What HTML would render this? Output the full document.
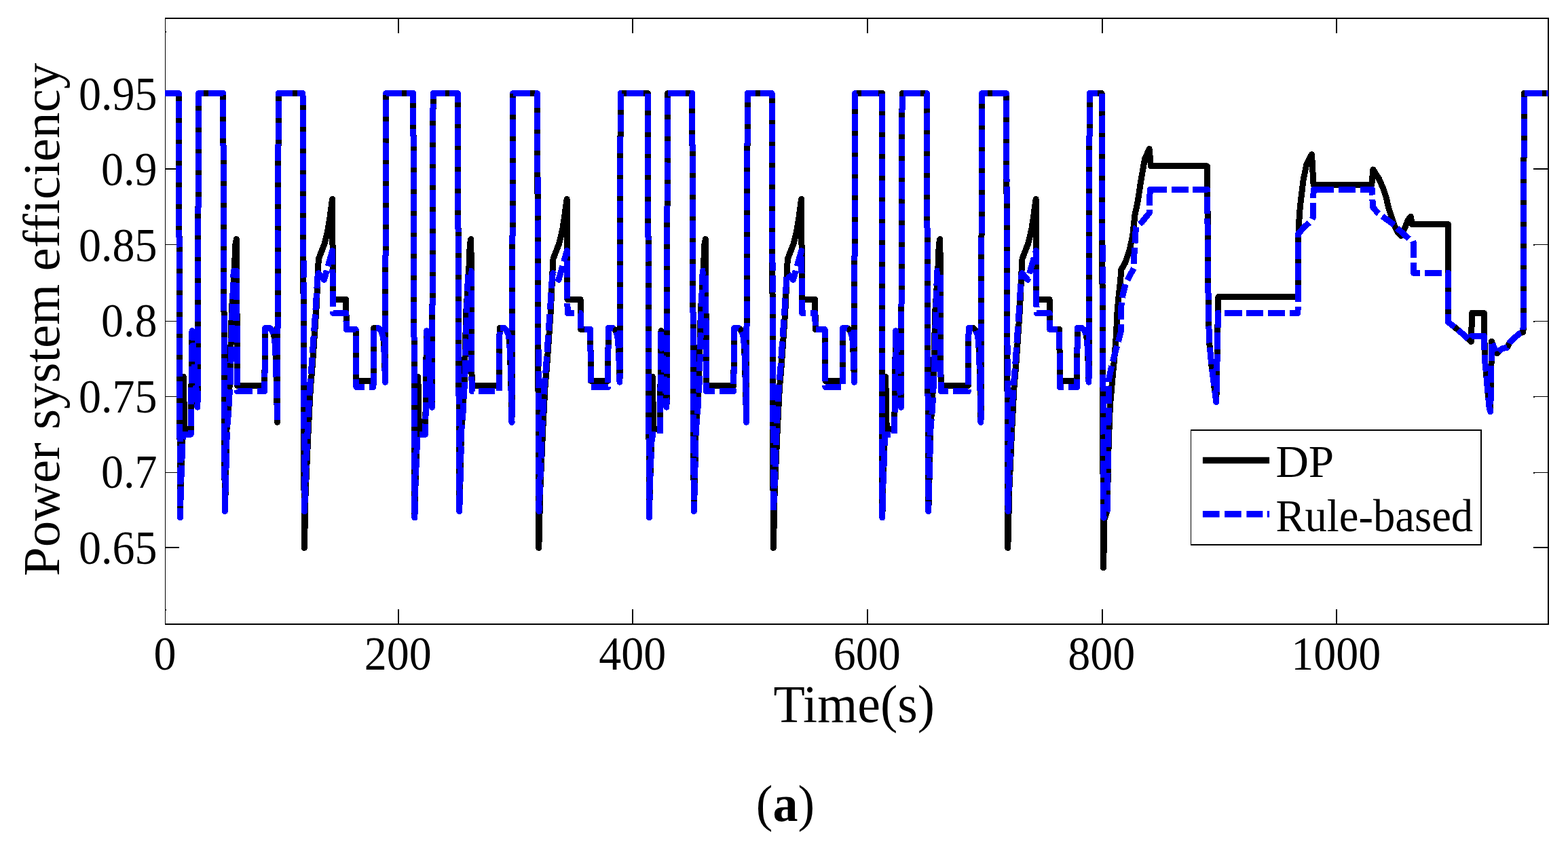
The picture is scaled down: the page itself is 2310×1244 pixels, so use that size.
<!DOCTYPE html>
<html lang="en"><head><meta charset="utf-8"><title>Power system efficiency</title>
<style>html,body{margin:0;padding:0;background:#fff;}body{width:2310px;height:1244px;overflow:hidden;}svg{display:block;}text{font-family:"Liberation Serif","DejaVu Serif",serif;fill:#000;font-variant-ligatures:none;}</style>
</head><body>
<svg width="2310" height="1244" viewBox="0 0 2310 1244">
<rect x="0" y="0" width="2310" height="1244" fill="#fff"/>
<g fill="#000" shape-rendering="crispEdges">
<rect x="243" y="26" width="2039" height="2"/>
<rect x="243" y="919" width="2039" height="2"/>
<rect x="243" y="26" width="1" height="895"/>
<rect x="2280" y="26" width="2" height="895"/>
<rect x="586" y="898" width="2" height="21"/>
<rect x="586" y="28" width="2" height="21"/>
<rect x="931" y="898" width="2" height="21"/>
<rect x="931" y="28" width="2" height="21"/>
<rect x="1277" y="898" width="2" height="21"/>
<rect x="1277" y="28" width="2" height="21"/>
<rect x="1623" y="898" width="2" height="21"/>
<rect x="1623" y="28" width="2" height="21"/>
<rect x="1968" y="898" width="2" height="21"/>
<rect x="1968" y="28" width="2" height="21"/>
<rect x="243" y="898" width="2" height="2"/>
<rect x="243" y="46" width="2" height="2"/>
<rect x="243" y="248" width="21" height="2"/>
<rect x="2259" y="248" width="22" height="2"/>
<rect x="243" y="360" width="21" height="1"/>
<rect x="2259" y="360" width="22" height="1"/>
<rect x="2259" y="360" width="2" height="2"/>
<rect x="243" y="473" width="21" height="1"/>
<rect x="2259" y="473" width="22" height="1"/>
<rect x="2259" y="473" width="2" height="2"/>
<rect x="243" y="584" width="21" height="1"/>
<rect x="2259" y="584" width="22" height="1"/>
<rect x="2259" y="584" width="2" height="2"/>
<rect x="243" y="696" width="21" height="1"/>
<rect x="2259" y="696" width="22" height="1"/>
<rect x="2259" y="696" width="2" height="2"/>
<rect x="243" y="806" width="21" height="2"/>
<rect x="2259" y="806" width="22" height="2"/>
</g>
<g fill="none" stroke-linejoin="round" stroke-linecap="butt" stroke-width="9" shape-rendering="crispEdges">
<path stroke="#000" d="M243.2 137.5 L263.3 137.5 L265.4 763.0 L266.5 716.0 L268.7 653.0 L270.3 555.4 L271.8 632.6 L281.2 632.6 L283.0 487.7 L291.0 600.2 L292.6 137.5 L328.7 137.5 L331.2 753.5 L332.1 727.0 L334.0 633.0 L335.8 610.0 L336.9 594.6 L337.7 575.0 L338.5 565.7 L339.4 530.0 L341.5 455.0 L345.2 400.0 L346.8 360.0 L348.4 352.5 L349.6 568.3 L389.8 568.3 L390.6 483.5 L397.1 483.5 L400.6 486.5 L403.4 493.0 L404.8 502.0 L405.6 514.0 L406.2 528.0 L406.8 547.0 L408.1 600.0 L408.5 622.5 L410.3 137.5 L446.0 137.5 L448.3 807.5 L449.3 767.0 L450.1 727.0 L454.4 630.0 L457.5 571.0 L460.2 540.0 L465.9 457.0 L468.5 400.0 L468.7 392.0 L469.6 381.0 L477.8 360.0 L481.0 348.0 L483.5 336.0 L486.0 320.0 L488.0 305.0 L489.6 293.5 L490.5 441.5 L509.7 441.5 L510.3 485.5 L524.2 485.5 L525.0 561.5 L550.0 561.5 L550.8 483.5 L557.3 483.5 L560.8 486.5 L563.6 493.0 L565.0 502.0 L565.8 514.0 L566.4 528.0 L567.0 547.0 L567.5 563.2 L568.7 137.5 L608.8 137.5 L610.9 763.0 L612.0 716.0 L614.2 653.0 L615.8 555.4 L617.3 632.6 L626.7 632.6 L628.5 487.7 L636.5 600.2 L638.1 137.5 L674.2 137.5 L676.7 753.5 L677.6 727.0 L679.5 633.0 L681.3 610.0 L682.4 594.6 L683.2 575.0 L684.0 565.7 L684.9 530.0 L687.0 455.0 L690.7 400.0 L692.3 360.0 L693.9 352.5 L695.1 568.3 L735.3 568.3 L736.1 483.5 L742.6 483.5 L746.1 486.5 L748.9 493.0 L750.3 502.0 L751.1 514.0 L751.7 528.0 L752.3 547.0 L753.6 600.0 L754.0 622.5 L755.8 137.5 L791.5 137.5 L793.8 807.5 L794.8 767.0 L795.6 727.0 L799.9 630.0 L803.0 571.0 L805.7 540.0 L811.4 457.0 L814.0 400.0 L814.2 392.0 L815.1 381.0 L823.3 360.0 L826.5 348.0 L829.0 336.0 L831.5 320.0 L833.5 305.0 L835.1 293.5 L836.0 441.5 L855.2 441.5 L855.8 485.5 L869.7 485.5 L870.5 561.5 L895.5 561.5 L896.3 483.5 L902.8 483.5 L906.3 486.5 L909.1 493.0 L910.5 502.0 L911.3 514.0 L911.9 528.0 L912.5 547.0 L913.0 563.2 L914.2 137.5 L954.3 137.5 L956.4 763.0 L957.5 716.0 L959.7 653.0 L961.3 555.4 L962.8 632.6 L972.2 632.6 L974.0 487.7 L982.0 600.2 L983.6 137.5 L1019.7 137.5 L1022.2 753.5 L1023.1 727.0 L1025.0 633.0 L1026.8 610.0 L1027.9 594.6 L1028.7 575.0 L1029.5 565.7 L1030.4 530.0 L1032.5 455.0 L1036.2 400.0 L1037.8 360.0 L1039.4 352.5 L1040.6 568.3 L1080.8 568.3 L1081.6 483.5 L1088.1 483.5 L1091.6 486.5 L1094.4 493.0 L1095.8 502.0 L1096.6 514.0 L1097.2 528.0 L1097.8 547.0 L1099.1 600.0 L1099.5 622.5 L1101.3 137.5 L1137.0 137.5 L1139.3 807.5 L1140.3 767.0 L1141.1 727.0 L1145.4 630.0 L1148.5 571.0 L1151.2 540.0 L1156.9 457.0 L1159.5 400.0 L1159.7 392.0 L1160.6 381.0 L1168.8 360.0 L1172.0 348.0 L1174.5 336.0 L1177.0 320.0 L1179.0 305.0 L1180.6 293.5 L1181.5 441.5 L1200.7 441.5 L1201.3 485.5 L1215.2 485.5 L1216.0 561.5 L1241.0 561.5 L1241.8 483.5 L1248.3 483.5 L1251.8 486.5 L1254.6 493.0 L1256.0 502.0 L1256.8 514.0 L1257.4 528.0 L1258.0 547.0 L1258.5 563.2 L1259.7 137.5 L1299.8 137.5 L1299.8 763.0 L1300.9 716.0 L1303.1 653.0 L1304.7 555.4 L1306.2 632.6 L1317.7 632.6 L1319.5 487.7 L1327.5 600.2 L1329.1 137.5 L1365.2 137.5 L1367.7 753.5 L1368.6 727.0 L1370.5 633.0 L1372.3 610.0 L1373.4 594.6 L1374.2 575.0 L1375.0 565.7 L1375.9 530.0 L1378.0 455.0 L1381.7 400.0 L1383.3 360.0 L1384.9 352.5 L1386.1 568.3 L1426.3 568.3 L1427.1 483.5 L1433.6 483.5 L1437.1 486.5 L1439.9 493.0 L1441.3 502.0 L1442.1 514.0 L1442.7 528.0 L1443.3 547.0 L1444.6 600.0 L1445.0 622.5 L1446.8 137.5 L1482.5 137.5 L1484.8 807.5 L1485.8 767.0 L1486.6 727.0 L1490.9 630.0 L1494.0 571.0 L1496.7 540.0 L1502.4 457.0 L1505.0 400.0 L1505.2 392.0 L1506.1 381.0 L1514.3 360.0 L1517.5 348.0 L1520.0 336.0 L1522.5 320.0 L1524.5 305.0 L1526.1 293.5 L1527.0 441.5 L1546.2 441.5 L1546.8 485.5 L1560.7 485.5 L1561.5 561.5 L1586.5 561.5 L1587.3 483.5 L1593.8 483.5 L1597.3 486.5 L1600.1 493.0 L1601.5 502.0 L1602.3 514.0 L1602.9 528.0 L1603.5 547.0 L1604.0 563.2 L1605.2 137.5 L1623.0 137.5 L1625.5 836.6 L1626.6 790.0 L1627.0 765.0 L1631.3 752.0 L1632.2 700.0 L1633.0 662.0 L1634.1 630.0 L1635.4 598.0 L1638.6 561.0 L1642.0 525.0 L1644.7 490.0 L1645.5 466.3 L1647.9 438.2 L1650.5 414.8 L1651.8 397.6 L1658.0 386.7 L1664.2 368.0 L1668.6 347.7 L1672.0 316.5 L1676.0 298.0 L1680.9 266.0 L1686.4 234.8 L1693.1 219.3 L1695.5 244.9 L1778.5 244.9 L1779.7 400.0 L1780.4 470.0 L1782.0 509.0 L1785.1 540.2 L1789.0 571.4 L1791.8 592.6 L1794.8 437.7 L1912.0 437.7 L1912.5 360.0 L1913.5 330.0 L1915.4 304.0 L1920.0 266.0 L1924.7 242.6 L1932.5 227.6 L1935.1 272.4 L2020.8 272.4 L2022.8 249.9 L2031.4 263.3 L2037.6 277.3 L2042.3 291.4 L2045.4 305.4 L2050.1 319.5 L2054.0 332.0 L2059.5 342.9 L2064.0 347.5 L2070.0 335.0 L2074.0 325.0 L2078.2 319.2 L2080.5 330.7 L2133.5 330.7 L2133.5 474.7 L2146.7 485.2 L2156.8 493.8 L2167.3 503.6 L2168.7 461.5 L2186.3 461.5 L2187.4 530.0 L2189.7 553.0 L2191.7 577.0 L2194.0 600.0 L2195.6 606.6 L2196.4 577.0 L2197.5 503.3 L2201.0 512.0 L2205.5 521.0 L2210.0 516.0 L2213.7 513.5 L2220.0 512.5 L2224.0 505.0 L2230.0 499.0 L2238.7 491.5 L2244.0 489.5 L2245.4 137.5 L2281.0 137.5"/>
<path stroke="#0000ff" stroke-dasharray="24.65 6.7 25.08 6.7 25.08 6.7 25.08 6.7 25.08 6.7 25.08 6.7 25.08 6.7 25.08 6.7 25.08 6.7 25.08 6.7 25.08 6.7 25.08 6.7 25.08 6.7 25.08 6.7 25.08 6.7 25.08 6.7 25.08 6.7 25.08 6.7 25.08 6.7 25.08 6.7 24.82 6.7 24.82 6.7 24.82 6.7 24.82 6.7 24.82 6.7 24.82 6.7 24.82 6.7 24.82 6.7 24.82 6.7 24.82 6.7 24.82 6.7 24.82 6.7 24.82 6.7 24.82 6.7 25.08 6.7 25.08 6.7 25.08 6.7 25.08 6.7 25.08 6.7 25.08 6.7 25.08 6.7 25.08 6.7 25.08 6.7 25.08 6.7 25.08 6.7 25.08 6.7 25.08 6.7 26.1 6.7 24.72 6.7 25.08 6.7 25.08 6.7 25.08 6.7 25.08 6.7 25.08 6.7 25.08 6.7 25.08 6.7 25.08 6.7 25.08 6.7 25.08 6.7 25.08 6.7 25.08 6.7 25.08 6.7 25.08 6.7 25.08 6.7 25.08 6.7 25.08 6.7 25.08 6.7 25.08 6.7 24.85 6.7 24.85 6.7 24.85 6.7 24.85 6.7 24.85 6.7 24.85 6.7 24.85 6.7 24.85 6.7 24.85 6.7 24.85 6.7 24.85 6.7 24.85 6.7 24.85 6.7 24.85 6.7 24.85 6.7 24.85 6.7 24.85 6.7 24.85 6.7 25.23 6.7 25.23 6.7 25.23 6.7 25.23 6.7 25.23 6.7 25.23 6.7 25.23 6.7 25.23 6.7 25.23 6.7 25.08 6.7 25.08 6.7 25.08 6.7 25.08 6.7 25.08 6.7 25.08 6.7 25.08 6.7 25.08 6.7 25.08 6.7 25.08 6.7 25.08 6.7 25.08 6.7 25.08 6.7 25.08 6.7 25.4 6.7 26 6.7 25.08 6.7 25.08 6.7 25.08 6.7 25.08 6.7 25.08 6.7 25.08 6.7 25.08 6.7 25.08 6.7 25.08 6.7 25.08 6.7 25.08 6.7 25.08 6.7 25.08 6.7 25.08 6.7 25.08 6.7 25.08 6.7 25.08 6.7 25.08 6.7 24.6 6.7 24.6 6.7 25.08 6.7 25.08 6.7 25.24 6.7 25.24 6.7 25.53 6.7 24.34 6.7 25.16 6.7 25.08 6.7 24.77 6.7 49.58 6.7 43.89 6.7 25.7 6.7 22.9 6.7 26.8 6.7 29.2 6.7 25.1 6.7 25.4 6.7 24.1 6.7 26.5 6.7 25.2 6.7 24.5 6.7 25.21 6.7 24.92 6.7 24.88 6.7 25.08 6.7 25.08 6.7 25.08 6.7 25.08 6.7 25.08 6.7 25.08 6.7 25.08 6.7 25.08 6.7 25.08 6.7 25.08 6.7 25.08 6.7 25.08 6.7 25.08 6.7 26.1 6.7 24.5 6.7 25.08 6.7 25.08 6.7 25.08 6.7 25.08 6.7 25.08 6.7 25.08 6.7 25.08 6.7 25.08 6.7 25.08 6.7 25.08 6.7 25.08 6.7 25.08 6.7 25.08 6.7 25.08 6.7 25.08 6.7 25.08 6.7 25.08 6.7 25.08 6.7 25.08 6.7 24.79 6.7 24.79 6.7 24.79 6.7 24.79 6.7 24.79 6.7 24.79 6.7 24.79 6.7 24.79 6.7 24.79 6.7 24.79 6.7 24.79 6.7 24.79 6.7 24.79 6.7 25.08 6.7 25.08 6.7 25.08 6.7 25.08 6.7 25.08 6.7 25.08 6.7 25.08 6.7 25.08 6.7 25.08 6.7 25.08 6.7 25.08 6.7 25.08 6.7 25.08 6.7 25.08 6.7 26.3 6.7 25.4 6.7 25.08 6.7 25.08 6.7 25.08 6.7 25.08 6.7 25.08 6.7 25.08 6.7 25.08 6.7 25.08 6.7 25.08 6.7 25.08 6.7 25.08 6.7 25.08 6.7 25.08 6.7 25.08 6.7 25.08 6.7 25.08 6.7 25.08 6.7 25.08 6.7 24.94 6.7 24.94 6.7 24.94 6.7 24.94 6.7 24.94 6.7 24.94 6.7 24.94 6.7 24.94 6.7 24.94 6.7 24.94 6.7 24.94 6.7 24.94 6.7 24.94 6.7 24.94 6.7 24.94 6.7 24.94 6.7 24.94 6.7 24.94 6.7 24.38 6.7 24.38 6.7 24.38 6.7 24.38 6.7 24.38 6.7 24.38 6.7 24.38 6.7 24.38 6.7 24.38 6.7 25.08 6.7 25.08 6.7 25.08 6.7 25.08 6.7 25.08 6.7 25.08 6.7 25.08 6.7 25.08 6.7 25.08 6.7 25.08 6.7 25.08 6.7 25.08 6.7 25.08 6.7 25.08 6.7 25.08 6.7 25.22 6.7 25.2 6.7 25.08 6.7 25.08 6.7 25.08 6.7 25.08 6.7 25.08 6.7 25.08 6.7 25.08 6.7 25.08 6.7 25.08 6.7 25.08 6.7 25.08 6.7 25.08 6.7 25.08 6.7 25.08 6.7 25.08 6.7 25.08 6.7 25.08 6.7 25.08 6.7 24.69 6.7 24.69 6.7 24.69 6.7 24.69 6.7 24.69 6.7 24.69 6.7 24.69 6.7 24.69 6.7 24.69 6.7 24.69 6.7 24.69 6.7 24.69 6.7 24.69 6.7 24.69 6.7 24.69 6.7 24.69 6.7 24.69 6.7 24.69 6.7 24.69 6.7 24.69 6.7 24.69 6.7 24.69 6.7 24.69 6.7 24.69 6.7 24.69 6.7 24.69 6.7 24.69 6.7 24.69 6.7 25.08 6.7 25.08 6.7 25.08 6.7 25.08 6.7 25.08 6.7 25.08 6.7 25.08 6.7 25.08 6.7 25.08 6.7 25.08 6.7 25.08 6.7 25.08 6.7 26.5 6.7 25.25 6.7 25.25 6.7 25.08 6.7 25.08 6.7 25.08 6.7 25.08 6.7 25.08 6.7 25.08 6.7 25.08 6.7 25.08 6.7 25.08 6.7 25.08 6.7 25.08 6.7 25.08 6.7 25.08 6.7 25.08 6.7 25.08 6.7 25.08 6.7 25.08 6.7 25.08 6.7 24.65 6.7 24.65 6.7 24.65 6.7 24.65 6.7 24.65 6.7 24.65 6.7 24.65 6.7 24.65 6.7 24.65 6.7 24.65 6.7 24.65 6.7 24.65 6.7 24.65 6.7 24.65 6.7 25.08 6.7 25.08 6.7 25.08 6.7 25.08 6.7 25.08 6.7 25.08 6.7 25.08 6.7 25.08 6.7 25.08 6.7 25.08 6.7 25.08 6.7 25.08 6.7 25.08 6.7 25.08 6.7 26.32 6.7 25.4 6.7 25.08 6.7 25.08 6.7 25.08 6.7 25.08 6.7 25.08 6.7 25.08 6.7 25.08 6.7 25.08 6.7 25.08 6.7 25.08 6.7 25.08 6.7 25.08 6.7 25.08 6.7 25.08 6.7 25.08 6.7 25.08 6.7 25.08 6.7 25.08 6.7 24.96 6.7 24.96 6.7 24.96 6.7 24.96 6.7 24.96 6.7 24.96 6.7 24.96 6.7 24.96 6.7 24.96 6.7 24.96 6.7 24.96 6.7 24.96 6.7 24.96 6.7 24.96 6.7 24.96 6.7 24.96 6.7 24.96 6.7 24.96 6.7 25.35 6.7 25.35 6.7 25.35 6.7 25.35 6.7 25.35 6.7 25.35 6.7 25.35 6.7 25.35 6.7 25.35 6.7 25.08 6.7 25.08 6.7 25.08 6.7 25.08 6.7 25.08 6.7 25.08 6.7 25.08 6.7 25.08 6.7 25.08 6.7 25.08 6.7 25.08 6.7 25.08 6.7 25.08 6.7 25.08 6.7 25.7 6.7 24.6 6.7 25.08 6.7 25.08 6.7 25.08 6.7 25.08 6.7 25.08 6.7 25.08 6.7 25.08 6.7 25.08 6.7 25.08 6.7 25.08 6.7 25.08 6.7 25.08 6.7 25.08 6.7 25.08 6.7 25.08 6.7 25.08 6.7 25.08 6.7 25.08 6.7 25.08 6.7 25.23 6.7 25.23 6.7 25.23 6.7 25.23 6.7 25.23 6.7 25.23 6.7 25.23 6.7 25.23 6.7 25.23 6.7 25.23 6.7 25.23 6.7 25.23 6.7 25.23 6.7 25.23 6.7 25.23 6.7 25.23 6.7 25.23 6.7 25.23 6.7 25.23 6.7 25.23 6.7 25.23 6.7 25.23 6.7 25.23 6.7 25.23 6.7 25.23 6.7 25.23 6.7 25.23 6.7 25.08 6.7 25.08 6.7 25.08 6.7 25.08 6.7 25.08 6.7 25.08 6.7 25.08 6.7 25.08 6.7 25.08 6.7 25.08 6.7 25.08 6.7 25.08 6.7 26.2 6.7 25.2 6.7 25.2 6.7 25.08 6.7 25.08 6.7 25.08 6.7 25.08 6.7 25.08 6.7 25.08 6.7 25.08 6.7 25.08 6.7 25.08 6.7 25.08 6.7 25.08 6.7 25.08 6.7 25.08 6.7 25.08 6.7 25.08 6.7 25.08 6.7 25.08 6.7 25.08 6.7 24.96 6.7 24.96 6.7 24.96 6.7 24.96 6.7 24.96 6.7 24.96 6.7 24.96 6.7 24.96 6.7 24.96 6.7 24.96 6.7 24.96 6.7 24.96 6.7 24.96 6.7 24.96 6.7 25.08 6.7 25.08 6.7 25.08 6.7 25.08 6.7 25.08 6.7 25.08 6.7 25.08 6.7 25.08 6.7 25.08 6.7 25.08 6.7 25.08 6.7 25.08 6.7 25.08 6.7 24.5 6.7 24.5 6.7 24.9 6.7 25.08 6.7 25.08 6.7 25.08 6.7 25.08 6.7 25.08 6.7 25.08 6.7 25.08 6.7 25.08 6.7 25.08 6.7 25.08 6.7 25.08 6.7 25.08 6.7 25.08 6.7 25.08 6.7 25.08 6.7 25.08 6.7 25.08 6.7 25.08 6.7 24.88 6.7 24.88 6.7 24.88 6.7 24.88 6.7 24.88 6.7 24.88 6.7 24.88 6.7 24.88 6.7 24.88 6.7 24.88 6.7 24.88 6.7 24.88 6.7 24.88 6.7 24.88 6.7 24.88 6.7 24.88 6.7 24.88 6.7 24.88 6.7 25.33 6.7 25.33 6.7 25.33 6.7 25.33 6.7 25.33 6.7 25.33 6.7 25.33 6.7 25.33 6.7 25.33 6.7 25.08 6.7 25.08 6.7 25.08 6.7 25.08 6.7 25.08 6.7 25.08 6.7 25.08 6.7 25.08 6.7 25.08 6.7 25.08 6.7 25.08 6.7 25.08 6.7 25.08 6.7 25.08 6.7 23.7 6.7 24.5 6.7 25.08 6.7 25.08 6.7 25.08 6.7 25.08 6.7 25.08 6.7 25.08 6.7 25.08 6.7 25.08 6.7 25.08 6.7 25.08 6.7 25.08 6.7 25.08 6.7 25.08 6.7 25.08 6.7 25.08 6.7 25.08 6.7 25.08 6.7 25.08 6.7 25.08 6.7 24.59 6.7 24.59 6.7 24.59 6.7 24.59 6.7 24.59 6.7 24.59 6.7 24.59 6.7 24.59 6.7 24.59 6.7 24.59 6.7 24.59 6.7 24.59 6.7 24.59 6.7 24.59 6.7 24.59 6.7 24.59 6.7 24.59 6.7 24.59 6.7 24.59 6.7 24.59 6.7 24.59 6.7 24.59 6.7 24.59 6.7 24.59 6.7 24.59 6.7 24.59 6.7 24.59 6.7 24.59 6.7 25.08 6.7 25.08 6.7 25.08 6.7 25.08 6.7 25.08 6.7 25.08 6.7 25.08 6.7 25.08 6.7 25.08 6.7 25.08 6.7 25.08 6.7 25.08 6.7 25.45 6.7 25.45 6.7 25.08 6.7 25.08 6.7 25.08 6.7 25.08 6.7 25.08 6.7 25.08 6.7 25.08 6.7 25.08 6.7 25.08 6.7 25.08 6.7 25.08 6.7 25.08 6.7 25.08 6.7 25.08 6.7 25.08 6.7 25.08 6.7 25.08 6.7 25.08 6.7 24.5 6.7 24.5 6.7 25.3 6.7 25.3 6.7 25.3 6.7 25.3 6.7 25.3 6.7 23.71 6.7 23.7 6.7 26.27 6.7 25.62 6.7 20.4 6.7 19.86 6.7 23.73 6.7 24.14 6.7 26.52 6.7 48.21 6.7 25.2 6.7 24.8 6.7 25.41 6.7 25.08 6.7 25.08 6.7 25.04 6.7 25.04 6.7 25.04 6.7 25.04 6.7 25.04 6.7 25.04 6.7 25.04 6.7 25.04 6.7 25.04 6.7 25.04 6.7 25.04 6.7 25.08 6.7 25.08 6.7 25.08 6.7 21.68 6.7 25.08 6.7 25.08 6.7 25.08 6.7 28.46 6.7 24.58 6.7 42.8 6.7 25.3 6.7 26.1 6.7 23.79 6.7 21.73 6.7 23.28 6.7 24.89 6.7 25.3 6.7 24.6 6.7 24.6 6.7 25.4 6.7 24.14 6.7 20 6.7 41.6 6.7 25.01 6.7 24.93 6.7 25.49 6.7 24.5 6.7 25.4 6.7 25.3 6.7 12.94 6.7 14.71 6.7 23.45 6.7 25.45 6.7 25.08 6.7 25.08 6.7 25.08 6.7 25.08 6.7 25.08 6.7 25.08 6.7 25.08 6.7 25.08 6.7 25.08 6.7 25.08 6.7 25.08 6.7 52.67 0.01" d="M243.2 137.5 L263.3 137.5 L265.4 763.0 L266.5 716.0 L268.9 653.0 L269.5 640.2 L281.2 640.2 L283.0 487.7 L291.0 600.2 L292.6 137.5 L328.7 137.5 L331.2 753.5 L332.1 727.0 L334.4 633.0 L336.4 610.0 L337.5 594.6 L338.3 575.0 L339.1 565.7 L340.1 530.0 L342.2 455.0 L344.2 399.5 L348.6 399.5 L349.6 576.7 L389.8 576.7 L390.6 483.5 L397.1 483.5 L400.6 486.5 L403.4 493.0 L404.8 502.0 L405.6 514.0 L406.2 528.0 L406.8 547.0 L408.1 600.0 L408.5 622.5 L410.3 137.5 L446.0 137.5 L448.5 753.6 L449.6 727.0 L453.3 630.0 L456.4 571.0 L459.0 540.0 L464.9 457.0 L468.0 407.0 L469.3 402.7 L477.5 412.3 L489.7 369.6 L490.6 461.5 L509.7 461.5 L510.3 485.5 L524.2 485.5 L525.0 570.6 L550.0 570.6 L550.8 483.5 L557.3 483.5 L560.8 486.5 L563.6 493.0 L565.0 502.0 L565.8 514.0 L566.4 528.0 L567.0 547.0 L567.5 563.2 L568.7 137.5 L608.8 137.5 L610.9 763.0 L612.0 716.0 L614.4 653.0 L615.0 640.2 L626.7 640.2 L628.5 487.7 L636.5 600.2 L638.1 137.5 L674.2 137.5 L676.7 753.5 L677.6 727.0 L679.9 633.0 L681.9 610.0 L683.0 594.6 L683.8 575.0 L684.6 565.7 L685.6 530.0 L687.7 455.0 L689.7 399.5 L694.1 399.5 L695.1 576.7 L735.3 576.7 L736.1 483.5 L742.6 483.5 L746.1 486.5 L748.9 493.0 L750.3 502.0 L751.1 514.0 L751.7 528.0 L752.3 547.0 L753.6 600.0 L754.0 622.5 L755.8 137.5 L791.5 137.5 L794.0 753.6 L795.1 727.0 L798.8 630.0 L801.9 571.0 L804.5 540.0 L810.4 457.0 L813.5 407.0 L814.8 402.7 L823.0 412.3 L835.2 369.6 L836.1 461.5 L855.2 461.5 L855.8 485.5 L869.7 485.5 L870.5 570.6 L895.5 570.6 L896.3 483.5 L902.8 483.5 L906.3 486.5 L909.1 493.0 L910.5 502.0 L911.3 514.0 L911.9 528.0 L912.5 547.0 L913.0 563.2 L914.2 137.5 L954.3 137.5 L956.4 763.0 L957.5 716.0 L959.9 653.0 L960.5 640.2 L972.2 640.2 L974.0 487.7 L982.0 600.2 L983.6 137.5 L1019.7 137.5 L1022.2 753.5 L1023.1 727.0 L1025.4 633.0 L1027.4 610.0 L1028.5 594.6 L1029.3 575.0 L1030.1 565.7 L1031.1 530.0 L1033.2 455.0 L1035.2 399.5 L1039.6 399.5 L1040.6 576.7 L1080.8 576.7 L1081.6 483.5 L1088.1 483.5 L1091.6 486.5 L1094.4 493.0 L1095.8 502.0 L1096.6 514.0 L1097.2 528.0 L1097.8 547.0 L1099.1 600.0 L1099.5 622.5 L1101.3 137.5 L1137.0 137.5 L1139.5 753.6 L1140.6 727.0 L1144.3 630.0 L1147.4 571.0 L1150.0 540.0 L1155.9 457.0 L1159.0 407.0 L1160.3 402.7 L1168.5 412.3 L1180.7 369.6 L1181.6 461.5 L1200.7 461.5 L1201.3 485.5 L1215.2 485.5 L1216.0 570.6 L1241.0 570.6 L1241.8 483.5 L1248.3 483.5 L1251.8 486.5 L1254.6 493.0 L1256.0 502.0 L1256.8 514.0 L1257.4 528.0 L1258.0 547.0 L1258.5 563.2 L1259.7 137.5 L1299.8 137.5 L1299.8 763.0 L1300.9 716.0 L1303.3 653.0 L1303.9 640.2 L1317.7 640.2 L1319.5 487.7 L1327.5 600.2 L1329.1 137.5 L1365.2 137.5 L1367.7 753.5 L1368.6 727.0 L1370.9 633.0 L1372.9 610.0 L1374.0 594.6 L1374.8 575.0 L1375.6 565.7 L1376.6 530.0 L1378.7 455.0 L1380.7 399.5 L1385.1 399.5 L1386.1 576.7 L1426.3 576.7 L1427.1 483.5 L1433.6 483.5 L1437.1 486.5 L1439.9 493.0 L1441.3 502.0 L1442.1 514.0 L1442.7 528.0 L1443.3 547.0 L1444.6 600.0 L1445.0 622.5 L1446.8 137.5 L1482.5 137.5 L1485.0 753.6 L1486.1 727.0 L1489.8 630.0 L1492.9 571.0 L1495.5 540.0 L1501.4 457.0 L1504.5 407.0 L1505.8 402.7 L1514.0 412.3 L1526.2 369.6 L1527.1 461.5 L1546.2 461.5 L1546.8 485.5 L1560.7 485.5 L1561.5 570.6 L1586.5 570.6 L1587.3 483.5 L1593.8 483.5 L1597.3 486.5 L1600.1 493.0 L1601.5 502.0 L1602.3 514.0 L1602.9 528.0 L1603.5 547.0 L1604.0 563.2 L1605.2 137.5 L1623.0 137.5 L1625.9 763.2 L1631.3 752.0 L1632.0 700.0 L1632.7 650.0 L1633.3 600.0 L1633.6 560.0 L1637.5 540.0 L1642.4 521.5 L1647.0 505.0 L1651.0 490.3 L1651.3 481.1 L1652.1 446.0 L1653.3 438.0 L1658.0 419.0 L1664.0 407.0 L1670.6 395.0 L1671.2 365.0 L1672.0 358.0 L1673.4 335.0 L1682.2 327.5 L1693.6 313.4 L1693.6 302.0 L1694.2 279.1 L1778.5 279.1 L1779.7 400.0 L1780.4 470.0 L1782.0 509.0 L1785.1 540.2 L1789.0 571.4 L1791.8 592.6 L1794.5 461.4 L1912.0 461.4 L1912.4 345.0 L1920.0 336.0 L1931.0 326.0 L1934.5 320.0 L1935.1 279.2 L2021.5 279.2 L2022.3 305.0 L2030.4 314.6 L2036.3 318.5 L2054.0 331.7 L2059.3 337.2 L2075.7 352.0 L2081.3 355.3 L2082.5 358.5 L2082.5 402.4 L2133.5 402.4 L2133.5 474.7 L2146.7 485.2 L2156.8 493.8 L2164.5 501.5 L2167.5 495.5 L2186.3 495.5 L2187.4 530.0 L2189.7 553.0 L2191.7 577.0 L2194.0 600.0 L2195.6 606.6 L2196.4 577.0 L2197.5 503.3 L2201.0 512.0 L2205.5 521.0 L2210.0 516.0 L2213.7 513.5 L2220.0 512.5 L2224.0 505.0 L2230.0 499.0 L2238.7 491.5 L2244.0 489.5 L2245.4 137.5 L2281.0 137.5"/>
</g>
<text transform="translate(231.60 161.50) scale(1.0000 1.0500)" font-size="66" text-anchor="end">0.95</text>
<text transform="translate(231.60 273.08) scale(1.0000 1.0500)" font-size="66" text-anchor="end">0.9</text>
<text transform="translate(231.60 384.67) scale(1.0000 1.0500)" font-size="66" text-anchor="end">0.85</text>
<text transform="translate(231.60 496.25) scale(1.0000 1.0500)" font-size="66" text-anchor="end">0.8</text>
<text transform="translate(231.60 607.84) scale(1.0000 1.0500)" font-size="66" text-anchor="end">0.75</text>
<text transform="translate(231.60 719.42) scale(1.0000 1.0500)" font-size="66" text-anchor="end">0.7</text>
<text transform="translate(231.60 831.01) scale(1.0000 1.0500)" font-size="66" text-anchor="end">0.65</text>
<text transform="translate(243.00 987.30) scale(1.0000 1.0500)" font-size="66" text-anchor="middle">0</text>
<text transform="translate(586.20 987.30) scale(1.0000 1.0500)" font-size="66" text-anchor="middle">200</text>
<text transform="translate(931.70 987.30) scale(1.0000 1.0500)" font-size="66" text-anchor="middle">400</text>
<text transform="translate(1277.20 987.30) scale(1.0000 1.0500)" font-size="66" text-anchor="middle">600</text>
<text transform="translate(1622.70 987.30) scale(1.0000 1.0500)" font-size="66" text-anchor="middle">800</text>
<text transform="translate(1968.20 987.30) scale(1.0000 1.0500)" font-size="66" text-anchor="middle">1000</text>
<text transform="translate(1258.20 1063.80) scale(1.0000 1.0250)" font-size="75.9" text-anchor="middle">Time(s)</text>
<text transform="translate(86.90 849.20) rotate(-90)" font-size="77.1" text-anchor="start">Power system efficiency</text>
<text transform="translate(1156.90 1209.70) scale(0.9620 1.0000)" font-size="77" text-anchor="middle">(<tspan font-weight="bold">a</tspan>)</text>
<rect x="1754.5" y="634" width="427.5" height="169" fill="#fff" stroke="#000" stroke-width="1.5" shape-rendering="crispEdges"/>
<g fill="none" stroke-width="9.5">
<path stroke="#000" d="M1771.9 678.6H1870.1"/>
<path stroke="#0000ff" stroke-dasharray="24.7 7.5 24.6 7.7 23.9 6.5 3.3 50" d="M1771.9 757.7H1870.1"/>
</g>
<text transform="translate(1879.40 703.10) scale(1.0250 1.0170)" font-size="65.5" text-anchor="start">DP</text>
<text transform="translate(1879.40 783.10) scale(0.9870 1.0170)" font-size="65.5" text-anchor="start">Rule-based</text>
</svg>
</body></html>
